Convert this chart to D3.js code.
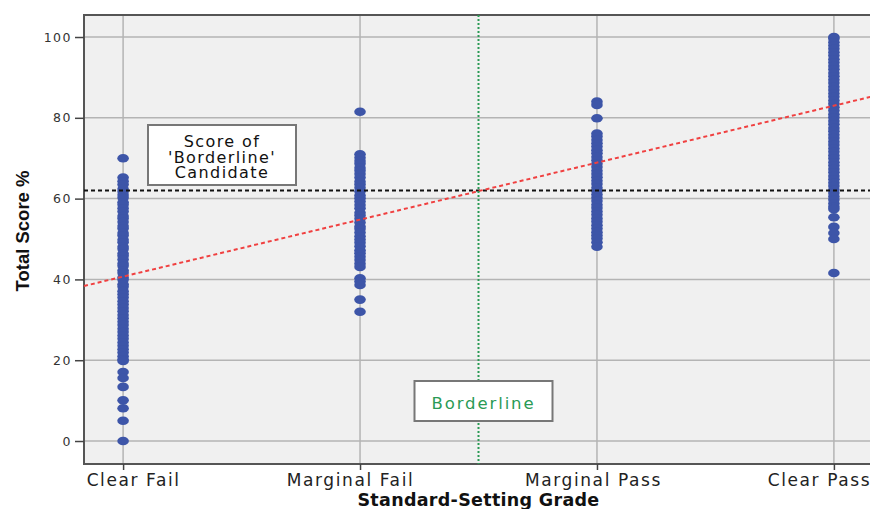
<!DOCTYPE html>
<html>
<head>
<meta charset="utf-8">
<script src="https://cdn.jsdelivr.net/npm/d3@7"></script>
<style>
  html, body { margin: 0; padding: 0; background: #fff; }
  svg { display: block; }
</style>
</head>
<body>
<div id="chart"></div>
<script>
(function() {

  // grades on the x axis
  var grades = ['Clear Fail', 'Marginal Fail', 'Marginal Pass', 'Clear Pass'];
  var yTicks = [0, 20, 40, 60, 80, 100];

  // total score % per grade
  var clearFail = [70, 65.2, 64.3, 63.5, 62.4, 61.7, 60.9, 60.2, 59.1, 58.5, 57.6, 56.8, 55.7, 55.1, 54.2, 53.2,
    52.6, 51.5, 50.9, 49.8, 49.2, 48.1, 47.5, 46.4, 45.8, 44.9, 43.9, 43.3, 42.2, 41.6, 40.5, 39.9, 38.8, 38.2,
    37.1, 36.3, 35.5, 34.6, 33.8, 32.9, 32.1, 31.2, 30.4, 29.5, 28.7, 27.8, 27, 26.1, 25.3, 24.4, 23.6, 22.7,
    21.9, 21, 20.2, 19.8, 17.1, 15.6, 13.4, 10.1, 8.1, 5, 0];
  var marginalFail = [81.5, 71, 70.1, 69.3, 68.6, 67.6, 66.9, 66.1, 65.2, 64.2, 63.5, 62.7, 61.8, 60.8, 60.1,
    59.3, 58.4, 57.6, 56.5, 55.8, 55, 54.1, 53.1, 52.5, 51.6, 50.7, 49.9, 49.1, 48.2, 47.2, 46.5, 45.6, 44.8,
    43.9, 43.1, 40.3, 39.5, 38.6, 35, 32];
  var marginalPass = [84, 83.2, 79.9, 76.1, 75.4, 74.5, 73.7, 72.9, 72, 71.2, 70.3, 69.5, 68.6, 67.8, 66.9, 66.1,
    65.3, 64.4, 63.6, 62.7, 61.9, 61, 60.2, 59.4, 58.5, 57.7, 56.8, 56, 55.1, 54.3, 53.4, 52.6, 51.7, 50.9,
    50.1, 49.2, 48.1];
  var clearPass = [100, 99.6, 98.7, 97.9, 97.1, 96.2, 95.4, 94.5, 93.7, 92.8, 92, 91.1, 90.3, 89.4, 88.6, 87.7,
    86.9, 86, 85.2, 84.3, 83.5, 82.6, 81.8, 80.9, 80.1, 79.2, 78.4, 77.5, 76.7, 75.8, 75, 74.1, 73.3, 72.4,
    71.6, 70.7, 69.9, 69, 68.2, 67.3, 66.5, 65.6, 64.8, 63.9, 63.1, 62.2, 61.4, 60.5, 59.7, 58.8, 58, 57.4,
    55.4, 53, 51.5, 50, 41.6];
  var scores = [clearFail, marginalFail, marginalPass, clearPass];

  // fitted line: score at Clear Fail and rise per grade step
  var fitIntercept = 40.7;
  var fitSlope = 14.1;
  var borderlineGrade = 2.5;
  var borderlineScore = 62;
  var scoreBoxLines = ['Score of', "'Borderline'", 'Candidate'];

  var W = 870, H = 509;
  var left = 84, top = 15, bottom = 464, right = 873;
  // grade labels sit a little off their ticks in the original
  var labelShift = [10, -10, -4, -15];

  var svg = d3.select('#chart').append('svg').attr('width', W).attr('height', H);

  var x = d3.scaleLinear().domain([0.835, 4.165]).range([left, right]);
  var y = d3.scaleLinear().domain([-5.69, 105.45]).range([bottom, top]);

  svg.append('rect')
    .attr('x', left).attr('y', top)
    .attr('width', right - left).attr('height', bottom - top)
    .attr('fill', '#f0f0f0');

  // grid
  svg.append('g').selectAll('line').data(yTicks).enter().append('line')
    .attr('x1', left).attr('x2', right)
    .attr('y1', function(d) { return y(d); }).attr('y2', function(d) { return y(d); })
    .attr('stroke', '#b4b4b4').attr('stroke-width', 1.5);
  svg.append('g').selectAll('line').data(grades).enter().append('line')
    .attr('x1', function(d, i) { return x(i + 1); }).attr('x2', function(d, i) { return x(i + 1); })
    .attr('y1', top).attr('y2', bottom)
    .attr('stroke', '#b4b4b4').attr('stroke-width', 1.5);

  // frame
  svg.append('path')
    .attr('d', 'M' + right + ',' + top + 'H' + left + 'V' + bottom + 'H' + right)
    .attr('fill', 'none').attr('stroke', '#555').attr('stroke-width', 2);

  // axes
  var yAxis = d3.axisLeft(y).tickValues(yTicks).tickSize(9).tickPadding(3);
  var gy = svg.append('g').attr('transform', 'translate(' + left + ',0)').call(yAxis);
  gy.select('.domain').remove();
  gy.selectAll('line').attr('stroke', '#444').attr('stroke-width', 1.5);
  gy.selectAll('text')
    .attr('font-family', 'DejaVu Sans, sans-serif').attr('font-size', 12.5)
    .attr('letter-spacing', 1.5).attr('fill', '#333');

  var xAxis = d3.axisBottom(x).tickValues([1, 2, 3, 4]).tickSize(6).tickPadding(4)
    .tickFormat(function(d) { return grades[d - 1]; });
  var gx = svg.append('g').attr('transform', 'translate(0,' + bottom + ')').call(xAxis);
  gx.select('.domain').remove();
  gx.selectAll('line').attr('stroke', '#444').attr('stroke-width', 1.5);
  gx.selectAll('text')
    .attr('dx', function(d) { return labelShift[d - 1]; })
    .attr('font-family', 'DejaVu Sans, sans-serif').attr('font-size', 17)
    .attr('letter-spacing', 1.6).attr('fill', '#222');

  svg.append('text')
    .attr('x', x(borderlineGrade)).attr('y', 506)
    .attr('text-anchor', 'middle')
    .attr('font-family', 'DejaVu Sans, sans-serif').attr('font-weight', 'bold').attr('font-size', 17.5)
    .attr('letter-spacing', 0.3).attr('fill', '#111')
    .text('Standard-Setting Grade');

  svg.append('text')
    .attr('transform', 'translate(29,231) rotate(-90)')
    .attr('text-anchor', 'middle')
    .attr('font-family', 'Liberation Sans Narrow, Liberation Sans, sans-serif')
    .attr('font-weight', 'bold').attr('font-size', 18.5)
    .attr('fill', '#111')
    .text('Total Score %');

  // points
  var dots = [];
  scores.forEach(function(list, i) {
    list.forEach(function(v) { dots.push({ g: i + 1, v: v }); });
  });
  svg.append('g').selectAll('ellipse').data(dots).enter().append('ellipse')
    .attr('cx', function(d) { return x(d.g); })
    .attr('cy', function(d) { return y(d.v); })
    .attr('rx', 5.8).attr('ry', 4.3)
    .attr('fill', '#3d55a8');

  // borderline score line
  svg.append('line')
    .attr('x1', left).attr('x2', right)
    .attr('y1', y(borderlineScore)).attr('y2', y(borderlineScore))
    .attr('stroke', '#111').attr('stroke-width', 2).attr('stroke-dasharray', '4,3');

  // regression line
  var xd = x.domain();
  svg.append('line')
    .attr('x1', x(xd[0])).attr('y1', y(fitIntercept + fitSlope * (xd[0] - 1)))
    .attr('x2', x(xd[1])).attr('y2', y(fitIntercept + fitSlope * (xd[1] - 1)))
    .attr('stroke', '#f04040').attr('stroke-width', 2).attr('stroke-dasharray', '4,3');

  // borderline grade line
  svg.append('line')
    .attr('x1', x(borderlineGrade)).attr('x2', x(borderlineGrade))
    .attr('y1', top).attr('y2', bottom)
    .attr('stroke', '#2a9a55').attr('stroke-width', 2).attr('stroke-dasharray', '2,2');

  // labels in boxes
  var bx = x(borderlineGrade);
  svg.append('rect')
    .attr('x', bx - 64).attr('y', 381).attr('width', 138).attr('height', 40)
    .attr('fill', '#fff').attr('stroke', '#777').attr('stroke-width', 2);
  svg.append('text')
    .attr('x', bx + 5).attr('y', 409)
    .attr('text-anchor', 'middle')
    .attr('font-family', 'DejaVu Sans, sans-serif').attr('font-size', 16.5)
    .attr('letter-spacing', 1.9).attr('fill', '#2a9a55')
    .text('Borderline');

  svg.append('rect')
    .attr('x', 148).attr('y', 125).attr('width', 148).attr('height', 60)
    .attr('fill', '#fff').attr('stroke', '#777').attr('stroke-width', 2);
  svg.append('g').selectAll('text').data(scoreBoxLines).enter().append('text')
    .attr('x', 222).attr('y', function(d, i) { return 147 + i * 15.5; })
    .attr('text-anchor', 'middle')
    .attr('font-family', 'DejaVu Sans, sans-serif').attr('font-size', 16)
    .attr('letter-spacing', 1.4).attr('fill', '#111')
    .text(function(d) { return d; });

}).call(this);
</script>
</body>
</html>
